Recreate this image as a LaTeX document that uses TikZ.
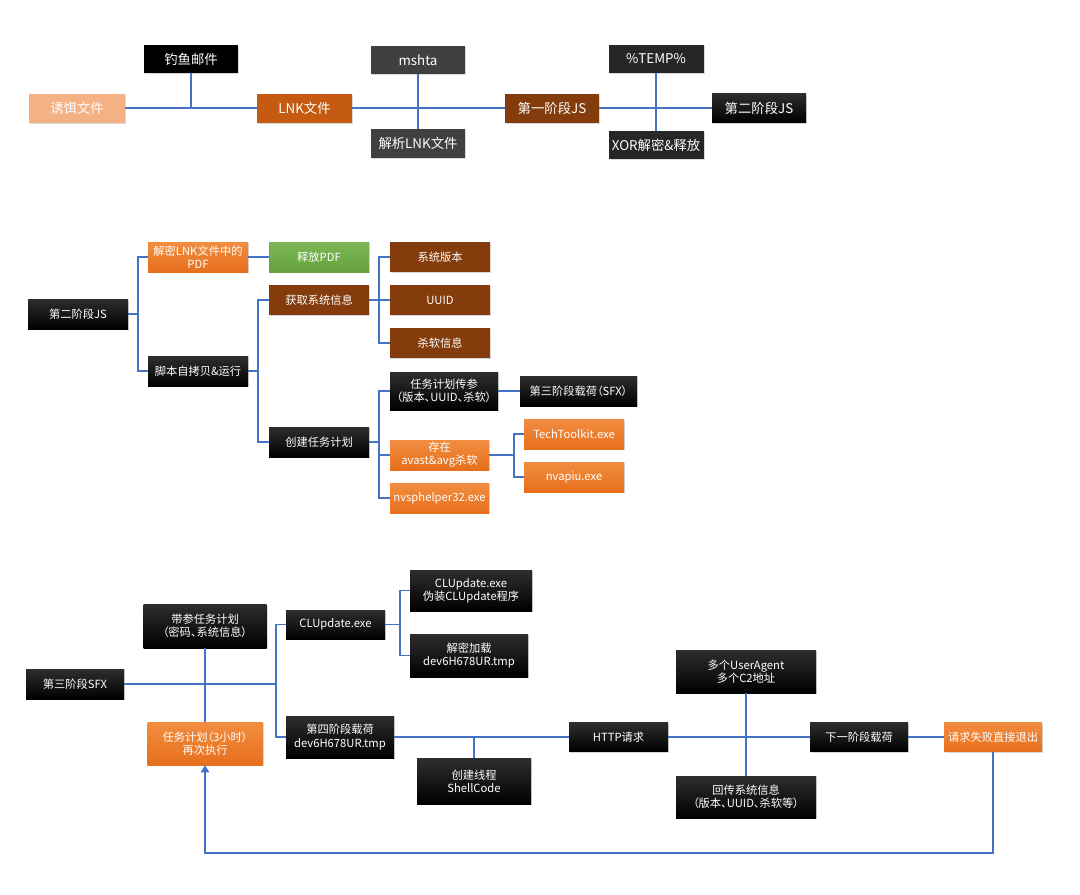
\documentclass[tikz,border=0pt]{standalone}
\usepackage{fontspec}
\setmainfont{Noto Sans CJK SC}[RawFeature=+palt]
\usetikzlibrary{shadows, arrows.meta, calc}
\definecolor{linkblue}{HTML}{4472C4}
\definecolor{baitsalmon}{HTML}{F4B183}
\definecolor{lnkrust}{HTML}{C55A11}
\definecolor{stagebrown}{HTML}{843C0C}
\definecolor{toolgrey}{HTML}{404040}
\definecolor{tempdark}{HTML}{262626}
\definecolor{orangetop}{HTML}{F28D40}
\definecolor{orangebot}{HTML}{E66F1C}
\definecolor{greentop}{HTML}{7BB853}
\definecolor{greenbot}{HTML}{65A13D}
\tikzset{
	box/.style={rectangle, text=white, align=center, inner sep=0.5pt,
		font=\fontsize{8}{9.3}\selectfont,
		drop shadow={opacity=0.3, shadow xshift=0.8pt, shadow yshift=-1pt}},
	wh/.style 2 args={minimum width=#1*0.025cm, minimum height=#2*0.025cm},
	topfont/.style={font=\fontsize{9.5}{11}\selectfont}
}
\tikzset{
	plainblack/.style={box, fill=black},
	blackbox/.style={box, top color=black!82, bottom color=black},
	greybox/.style={box, fill=toolgrey},
	darkbox/.style={box, fill=tempdark},
	salmonbox/.style={box, fill=baitsalmon},
	rustbox/.style={box, fill=lnkrust},
	brownbox/.style={box, fill=stagebrown},
	orangebox/.style={box, top color=orangetop, bottom color=orangebot},
	greenbox/.style={box, top color=greentop, bottom color=greenbot},
	link/.style={draw=linkblue, line width=1.3pt}
}

\begin{document}
\begin{tikzpicture}[x=0.025cm, y=-0.025cm]
      \useasboundingbox (0,0) rectangle (1080,895);

      % first row: delivery chain
      \node[salmonbox, topfont, wh={96}{29}] (bait) at (77,108) {诱饵文件};
      \node[plainblack, topfont, wh={94}{28}] (mail) at (191,59) {钓鱼邮件};
      \node[rustbox, topfont, wh={95}{29}] (lnk) at (304.5,108) {LNK文件};
      \node[greybox, topfont, wh={94}{28}] (mshta) at (418,60) {mshta};
      \node[greybox, topfont, wh={94}{29}] (parse) at (418,143.5) {解析LNK文件};
      \node[brownbox, topfont, wh={94}{29}] (js1) at (552,108) {第一阶段JS};
      \node[darkbox, topfont, wh={95}{28}] (temp) at (656,59) {\%TEMP\%};
      \node[darkbox, topfont, wh={95}{28}] (xor) at (656,145) {XOR解密\&释放};
      \node[blackbox, topfont, wh={94}{29}] (js2) at (759,108) {第二阶段JS};

      \draw[link] (bait) -- (lnk);
      \draw[link] (mail.south) -- (mail.south |- bait.east);
      \draw[link] (lnk) -- (js1);
      \draw[link] (mshta) -- (parse);
      \draw[link] (js1) -- (js2);
      \draw[link] (temp) -- (xor);

      % second row: stage two script
      \node[blackbox, wh={100}{30}] (js2b) at (78,314) {第二阶段JS};
      \node[orangebox, wh={100}{30}] (decpdf) at (198,257) {解密LNK文件中的\\PDF};
      \node[greenbox, wh={100}{30}] (relpdf) at (319,257) {释放PDF};
      \node[brownbox, wh={100}{30}] (sysver) at (440,257) {系统版本};
      \node[brownbox, wh={100}{30}] (getinfo) at (319,300) {获取系统信息};
      \node[brownbox, wh={100}{30}] (uuid) at (440,300) {UUID};
      \node[brownbox, wh={100}{30}] (avinfo) at (440,343) {杀软信息};
      \node[blackbox, wh={100}{30}] (selfcopy) at (198,371) {脚本自拷贝\&运行};
      \node[blackbox, wh={100}{30}] (mktask) at (319,442) {创建任务计划};
      \node[blackbox, wh={108}{38}] (param) at (444,391) {任务计划传参\\（版本、UUID、杀软）};
      \node[blackbox, wh={117}{30}] (sfxload) at (578.5,391) {第三阶段载荷（SFX）};
      \node[orangebox, wh={99}{30}] (avast) at (439.5,455) {存在\\avast\&avg杀软};
      \node[orangebox, wh={100}{30}] (tech) at (574,434) {TechToolkit.exe};
      \node[orangebox, wh={100}{30}] (nvapiu) at (574,477) {nvapiu.exe};
      \node[orangebox, wh={99}{30}] (nvsp) at (439.5,498) {nvsphelper32.exe};

      \coordinate (busA) at (138,314);
      \coordinate (busB) at (258,371);
      \coordinate (busC) at (379,300);
      \coordinate (busD) at (379,442);
      \coordinate (busE) at (514,455);
      \draw[link] (js2b) -- (busA);
      \draw[link] (decpdf.west) -| (busA) |- (selfcopy.west);
      \draw[link] (decpdf) -- (relpdf);
      \draw[link] (selfcopy) -- (busB);
      \draw[link] (getinfo.west) -| (busB) |- (mktask.west);
      \draw[link] (getinfo) -- (busC);
      \draw[link] (sysver.west) -| (busC) |- (avinfo.west);
      \draw[link] (busC) -- (uuid);
      \draw[link] (mktask) -- (busD);
      \draw[link] (param.west) -| (busD) |- (nvsp.west);
      \draw[link] (busD |- avast.west) -- (avast);
      \draw[link] (param) -- (sfxload);
      \draw[link] (avast) -- (busE);
      \draw[link] (tech.west) -| (busE) |- (nvapiu.west);

      % third row: SFX and stage four
      \node[blackbox, wh={98}{30}] (sfx) at (75,684) {第三阶段SFX};
      \node[blackbox, wh={123}{44}] (sched) at (205,626) {带参任务计划\\（密码、系统信息）};
      \node[orangebox, wh={115}{43}] (retry) at (205,743.5) {任务计划（3小时）\\再次执行};
      \node[blackbox, wh={99}{29}] (clu) at (335.5,624.5) {CLUpdate.exe};
      \node[blackbox, wh={122}{41}] (fake) at (471,590.5) {CLUpdate.exe\\伪装CLUpdate程序};
      \node[blackbox, wh={118}{43}] (decload) at (469,655.5) {解密加载\\dev6H678UR.tmp};
      \node[blackbox, wh={108}{42}] (stage4) at (340,737) {第四阶段载荷\\dev6H678UR.tmp};
      \node[blackbox, wh={114}{46}] (thread) at (474,781) {创建线程\\ShellCode};
      \node[blackbox, wh={99}{29}] (http) at (618.5,737) {HTTP请求};
      \node[blackbox, wh={140}{43}] (ua) at (746,671.5) {多个UserAgent\\多个C2地址};
      \node[blackbox, wh={140}{42}] (report) at (746,797) {回传系统信息\\（版本、UUID、杀软等）};
      \node[blackbox, wh={98}{29}] (nextload) at (859,737) {下一阶段载荷};
      \node[orangebox, wh={98}{29}] (quit) at (993,737) {请求失败直接退出};

      \coordinate (busF) at (276,684);
      \coordinate (busG) at (400,624.5);
      \coordinate (loopcorner) at (993,853);
      \draw[link] (sfx) -- (busF);
      \draw[link] (clu.west) -| (busF) |- (stage4.west);
      \draw[link] (sched) -- (retry);
      \draw[link] (clu) -- (busG);
      \draw[link] (fake.west) -| (busG) |- (decload.west);
      \draw[link] (stage4) -- (http);
      \draw[link] (stage4.east -| thread.north) -- (thread);
      \draw[link] (http) -- (nextload);
      \draw[link] (ua) -- (report);
      \draw[link] (nextload) -- (quit);
      \draw[link, -{Triangle[width=6pt, length=5pt]}] (quit) -- (loopcorner) -| (retry);
    \end{tikzpicture}
\end{document}
